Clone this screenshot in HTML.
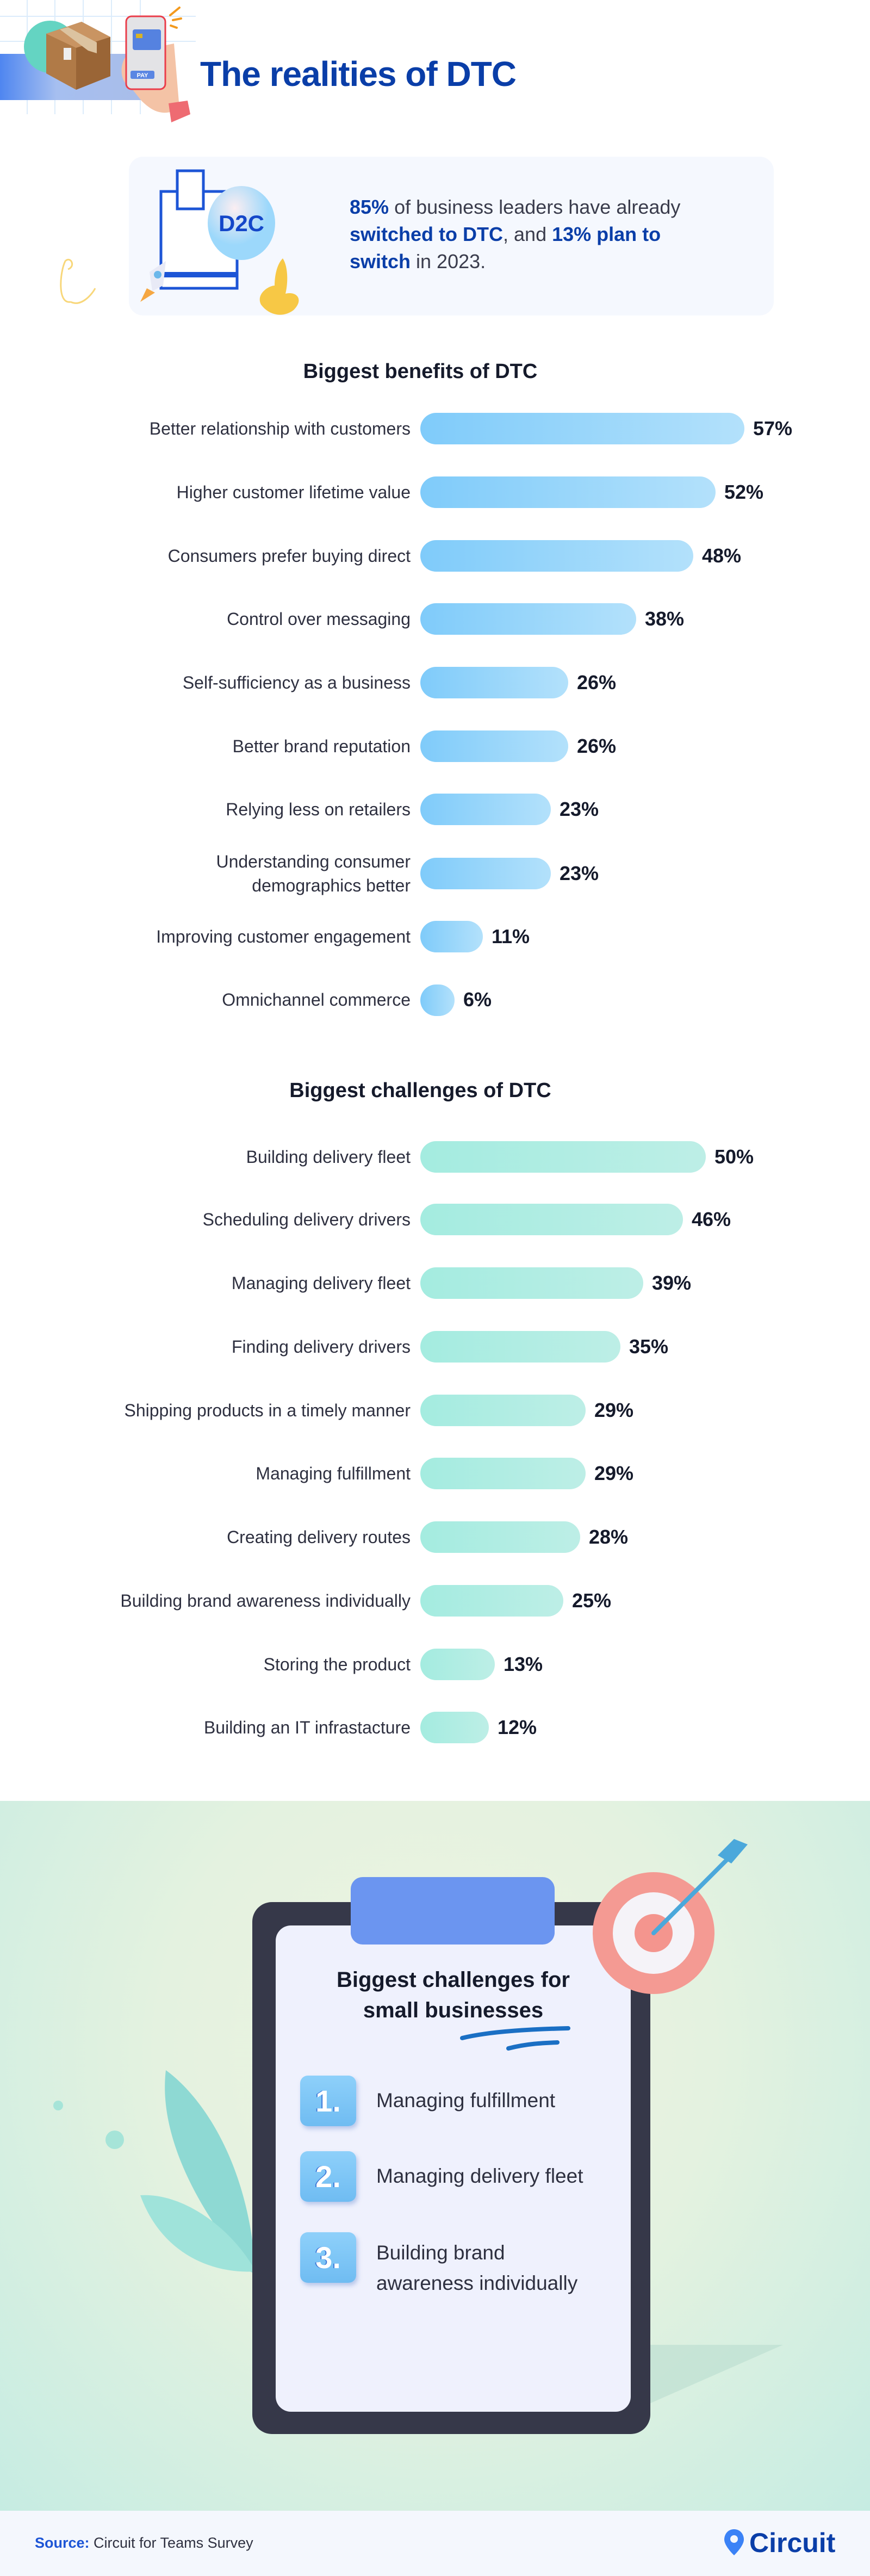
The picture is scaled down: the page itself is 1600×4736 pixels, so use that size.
<!DOCTYPE html>
<html><head><meta charset="utf-8"><style>
*{margin:0;padding:0;box-sizing:border-box}
body{width:1600px;height:4736px;position:relative;background:#fff;font-family:"Liberation Sans",sans-serif;overflow:hidden}
.a{position:absolute}
.lbl{position:absolute;right:845px;text-align:right;font-size:32px;color:#2e3040;line-height:40px;white-space:nowrap}
.bar{position:absolute;left:773px;height:58px;border-radius:29px}
.b1{background:linear-gradient(90deg,#7fcbfa,#b3e1fb)}
.b2{background:linear-gradient(90deg,#a4ece0,#bdeee6)}
.pct{position:absolute;font-size:36px;font-weight:bold;color:#151a2b;line-height:40px}
.h2{position:absolute;left:0;width:1546px;text-align:center;font-size:38px;font-weight:bold;color:#151a2b}
.num{position:absolute;left:552px;width:103px;height:93px;border-radius:14px;background:linear-gradient(180deg,#8ed0fa,#6fbcf2);box-shadow:3px 5px 8px rgba(80,120,200,.35);color:#fff;font-weight:bold;font-size:56px;text-align:center;line-height:93px;text-shadow:-2px 0 0 #3c78d8}
.it{position:absolute;left:692px;font-size:37px;color:#2e3040;line-height:56px}
</style></head><body>

<!-- header graphic -->
<svg class="a" style="left:0;top:0" width="360" height="230">
<defs><linearGradient id="bg1" x1="0" x2="1"><stop offset="0" stop-color="#4f86f0"/><stop offset=".4" stop-color="#a6bff0"/><stop offset="1" stop-color="#a9bde9"/></linearGradient></defs>
<g stroke="#dcecfb" stroke-width="2">
<line x1="50" y1="0" x2="50" y2="210"/><line x1="101" y1="0" x2="101" y2="210"/><line x1="153" y1="0" x2="153" y2="210"/><line x1="205" y1="0" x2="205" y2="210"/><line x1="258" y1="0" x2="258" y2="210"/>
<line x1="0" y1="30" x2="360" y2="30"/><line x1="0" y1="76" x2="360" y2="76"/>
</g>
<rect x="0" y="99" width="260" height="85" fill="url(#bg1)"/>
<circle cx="92" cy="86" r="48" fill="#64d4c2"/>
<polygon points="85,62 150,40 203,68 203,140 140,165 85,135" fill="#b07a47"/>
<polygon points="85,62 150,40 203,68 140,88" fill="#c99462"/>
<polygon points="140,88 203,68 203,140 140,165" fill="#9a6536"/>
<polygon points="110,54 125,50 178,78 178,98 162,93" fill="#dcc3a0"/>
<rect x="117" y="88" width="14" height="22" fill="#eee"/>
<path d="M245,95 C220,100 215,150 240,160 L260,185 C280,205 300,215 330,200 L320,80 Z" fill="#f4c3a6"/>
<rect x="232" y="30" width="72" height="134" rx="10" fill="#e3e3e6" stroke="#ea3d4a" stroke-width="3"/>
<rect x="244" y="54" width="52" height="38" rx="4" fill="#5582e0"/>
<rect x="250" y="62" width="12" height="8" fill="#d8b325"/>
<rect x="240" y="130" width="44" height="15" rx="3" fill="#5a86e3"/>
<text x="262" y="142" font-size="11" font-weight="bold" fill="#fff" text-anchor="middle" font-family="Liberation Sans">PAY</text>
<path d="M310,190 L345,185 L350,210 L315,225 Z" fill="#ee6b72"/>
<g stroke="#f39a1e" stroke-width="4" stroke-linecap="round"><line x1="313" y1="28" x2="330" y2="14"/><line x1="318" y1="37" x2="333" y2="34"/><line x1="314" y1="47" x2="325" y2="51"/></g>
</svg>
<div class="a" style="left:368px;top:96px;font-size:64px;font-weight:bold;color:#0a3ea8;letter-spacing:-1px;line-height:80px">The realities of DTC</div>

<!-- stat card -->
<div class="a" style="left:237px;top:288px;width:1186px;height:292px;background:#f5f8fe;border-radius:26px"></div>
<svg class="a" style="left:100px;top:300px" width="500" height="300">
<path d="M30,255 C5,260 10,200 20,180 C30,170 40,190 25,195" fill="none" stroke="#f8d77a" stroke-width="3"/>
<path d="M30,255 C50,265 70,240 75,230" fill="none" stroke="#f8d77a" stroke-width="3"/>
<rect x="196" y="52" width="140" height="178" fill="#fff" stroke="#1d55d6" stroke-width="5"/>
<rect x="226" y="14" width="48" height="70" fill="#fff" stroke="#1d55d6" stroke-width="5"/>
<rect x="196" y="200" width="140" height="10" fill="#1d55d6"/>
<defs><radialGradient id="d2c" cx=".4" cy=".3"><stop offset="0" stop-color="#fbeef2"/><stop offset="1" stop-color="#9cd8fb"/></radialGradient></defs>
<ellipse cx="344" cy="110" rx="62" ry="68" fill="url(#d2c)"/>
<text x="344" y="125" font-size="42" font-weight="bold" fill="#1447c9" text-anchor="middle" font-family="Liberation Sans">D2C</text>
<polygon points="175,200 205,180 200,225 180,235" fill="#e8eaf6"/><circle cx="190" cy="205" r="7" fill="#6bb7ea"/>
<polygon points="170,230 158,255 185,238" fill="#f5a742"/>
<path d="M420,175 C430,190 430,220 425,240 C445,235 460,250 440,270 C420,285 395,280 380,260 C370,240 395,225 405,225 C405,205 410,185 420,175 Z" fill="#f7c845"/>
</svg>
<div class="a" style="left:643px;top:356px;width:640px;font-size:36px;line-height:50px;color:#3a3c4c">
<b style="color:#0a3ea8">85%</b> of business leaders have already <b style="color:#0a3ea8">switched to DTC</b>, and <b style="color:#0a3ea8">13% plan to switch</b> in 2023.</div>

<!-- benefits -->
<div class="h2" style="top:662px">Biggest benefits of DTC</div>
<div class="lbl" style="top:768px">Better relationship with customers</div><div class="bar b1" style="top:759px;width:596px"></div><div class="pct" style="top:768px;left:1385px">57%</div>
<div class="lbl" style="top:885px">Higher customer lifetime value</div><div class="bar b1" style="top:876px;width:543px"></div><div class="pct" style="top:885px;left:1332px">52%</div>
<div class="lbl" style="top:1002px">Consumers prefer buying direct</div><div class="bar b1" style="top:993px;width:502px"></div><div class="pct" style="top:1002px;left:1291px">48%</div>
<div class="lbl" style="top:1118px">Control over messaging</div><div class="bar b1" style="top:1109px;width:397px"></div><div class="pct" style="top:1118px;left:1186px">38%</div>
<div class="lbl" style="top:1235px">Self-sufficiency as a business</div><div class="bar b1" style="top:1226px;width:272px"></div><div class="pct" style="top:1235px;left:1061px">26%</div>
<div class="lbl" style="top:1352px">Better brand reputation</div><div class="bar b1" style="top:1343px;width:272px"></div><div class="pct" style="top:1352px;left:1061px">26%</div>
<div class="lbl" style="top:1468px">Relying less on retailers</div><div class="bar b1" style="top:1459px;width:240px"></div><div class="pct" style="top:1468px;left:1029px">23%</div>
<div class="lbl" style="top:1562px;line-height:44px">Understanding consumer<br>demographics better</div><div class="bar b1" style="top:1577px;width:240px"></div><div class="pct" style="top:1586px;left:1029px">23%</div>
<div class="lbl" style="top:1702px">Improving customer engagement</div><div class="bar b1" style="top:1693px;width:115px"></div><div class="pct" style="top:1702px;left:904px">11%</div>
<div class="lbl" style="top:1818px">Omnichannel commerce</div><div class="bar b1" style="top:1810px;width:63px"></div><div class="pct" style="top:1818px;left:852px">6%</div>

<!-- challenges -->
<div class="h2" style="top:1984px">Biggest challenges of DTC</div>
<div class="lbl" style="top:2107px">Building delivery fleet</div><div class="bar b2" style="top:2098px;width:525px"></div><div class="pct" style="top:2107px;left:1314px">50%</div>
<div class="lbl" style="top:2222px">Scheduling delivery drivers</div><div class="bar b2" style="top:2213px;width:483px"></div><div class="pct" style="top:2222px;left:1272px">46%</div>
<div class="lbl" style="top:2339px">Managing delivery fleet</div><div class="bar b2" style="top:2330px;width:410px"></div><div class="pct" style="top:2339px;left:1199px">39%</div>
<div class="lbl" style="top:2456px">Finding delivery drivers</div><div class="bar b2" style="top:2447px;width:368px"></div><div class="pct" style="top:2456px;left:1157px">35%</div>
<div class="lbl" style="top:2573px">Shipping products in a timely manner</div><div class="bar b2" style="top:2564px;width:304px"></div><div class="pct" style="top:2573px;left:1093px">29%</div>
<div class="lbl" style="top:2689px">Managing fulfillment</div><div class="bar b2" style="top:2680px;width:304px"></div><div class="pct" style="top:2689px;left:1093px">29%</div>
<div class="lbl" style="top:2806px">Creating delivery routes</div><div class="bar b2" style="top:2797px;width:294px"></div><div class="pct" style="top:2806px;left:1083px">28%</div>
<div class="lbl" style="top:2923px">Building brand awareness individually</div><div class="bar b2" style="top:2914px;width:263px"></div><div class="pct" style="top:2923px;left:1052px">25%</div>
<div class="lbl" style="top:3040px">Storing the product</div><div class="bar b2" style="top:3031px;width:137px"></div><div class="pct" style="top:3040px;left:926px">13%</div>
<div class="lbl" style="top:3156px">Building an IT infrastacture</div><div class="bar b2" style="top:3147px;width:126px"></div><div class="pct" style="top:3156px;left:915px">12%</div>

<!-- green section -->
<div class="a" style="left:0;top:3311px;width:1600px;height:1305px;background:radial-gradient(ellipse at 50% 35%,#eef4df 0%,#e4f2e0 45%,#c6ece2 100%)"></div>
<svg class="a" style="left:0;top:3311px" width="1600" height="1305">
<polygon points="1190,1110 1440,1000 1190,1000" fill="#b9dccf" opacity=".6"/>
<circle cx="107" cy="560" r="9" fill="#a6e4d8"/><circle cx="211" cy="623" r="17" fill="#a6e4d8"/>
<path d="M305,495 C380,550 460,680 470,870 L460,865 C370,760 290,620 305,495 Z" fill="#8ed9d3"/>
<path d="M258,725 C340,720 430,790 470,865 C400,870 300,840 258,725 Z" fill="#9fe3da"/>
<rect x="464" y="186" width="732" height="978" rx="36" fill="#363849"/>
<rect x="507" y="229" width="653" height="894" rx="28" fill="#eff1fd"/>
<rect x="645" y="140" width="375" height="124" rx="22" fill="#6b95f0"/>
<path d="M850,436 C890,426 960,420 1045,418" fill="none" stroke="#1a6fc4" stroke-width="8" stroke-linecap="round"/>
<path d="M935,455 C970,446 1000,445 1025,444" fill="none" stroke="#1a6fc4" stroke-width="8" stroke-linecap="round"/>
<circle cx="1202" cy="243" r="112" fill="#f49a93"/>
<circle cx="1202" cy="243" r="75" fill="#f5f3f8"/>
<circle cx="1202" cy="243" r="35" fill="#f4958e"/>
<line x1="1202" y1="243" x2="1350" y2="95" stroke="#4ba8db" stroke-width="8" stroke-linecap="round"/>
<polygon points="1320,100 1350,70 1375,80 1345,115" fill="#4ba8db"/>
</svg>
<div class="a" style="left:507px;top:3612px;width:653px;text-align:center;font-size:40px;font-weight:bold;color:#151a2b;line-height:56px">Biggest challenges for<br>small businesses</div>
<div class="num" style="top:3816px">1.</div><div class="it" style="top:3834px">Managing fulfillment</div>
<div class="num" style="top:3955px">2.</div><div class="it" style="top:3973px">Managing delivery fleet</div>
<div class="num" style="top:4104px">3.</div><div class="it" style="top:4114px">Building brand<br>awareness individually</div>

<!-- footer -->
<div class="a" style="left:0;top:4616px;width:1600px;height:120px;background:#f4f7fd"></div>
<div class="a" style="left:64px;top:4658px;font-size:27px;color:#2e3040;line-height:34px"><span style="color:#1d55d6;font-weight:bold">Source:</span> Circuit for Teams Survey</div>
<svg class="a" style="left:1330px;top:4648px" width="40" height="52"><path d="M20,2 C8,2 2,12 2,21 C2,33 20,50 20,50 C20,50 38,33 38,21 C38,12 32,2 20,2 Z" fill="#3b82f6"/><circle cx="20" cy="20" r="7" fill="#f4f7fd"/></svg>
<div class="a" style="left:1378px;top:4645px;font-size:50px;font-weight:bold;color:#0a3ea8;line-height:60px">Circuit</div>
</body></html>
